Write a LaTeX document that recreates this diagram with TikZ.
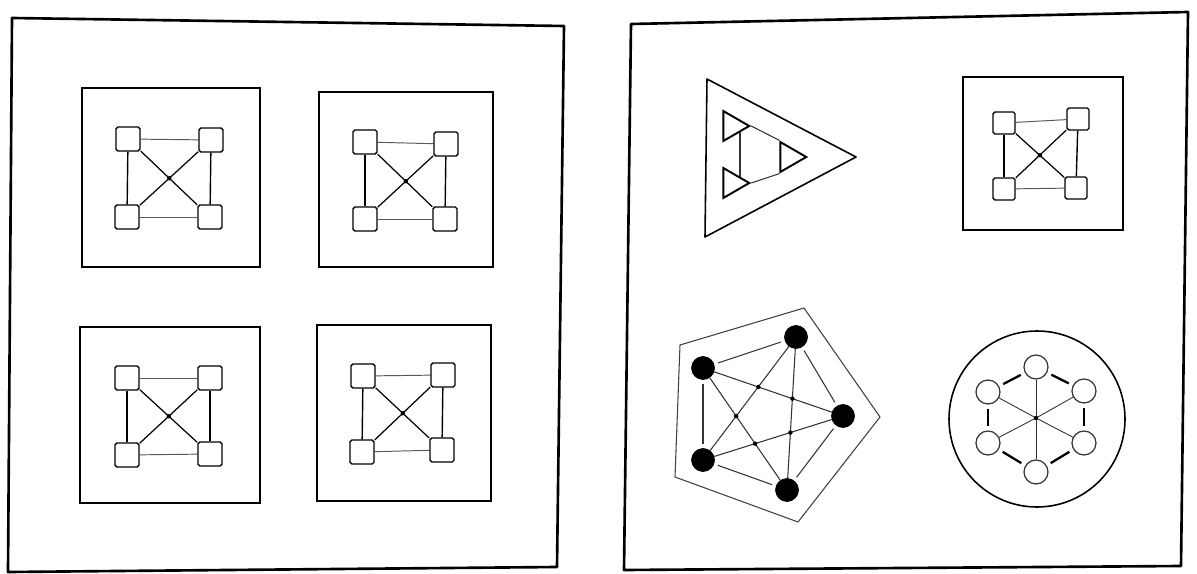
\documentclass[tikz,border=0pt]{standalone}
\usetikzlibrary{shapes.geometric,backgrounds}
\newcommand{\kfour}[6]{%
  \node[sq,#6] (#1a) at (#2) {};
  \node[sq,#6] (#1b) at (#3) {};
  \node[sq,#6] (#1c) at (#4) {};
  \node[sq,#6] (#1d) at (#5) {};
  \begin{pgfonlayer}{background}
    \draw[hedge] (#1a) -- (#1b);
    \draw[hedge] (#1c) -- (#1d);
    \draw[vedge] (#1a) -- (#1c);
    \draw[vedge] (#1b) -- (#1d);
    \draw[dedge] (#1a) -- (#1d);
    \draw[dedge] (#1b) -- (#1c);
  \end{pgfonlayer}
  \node[xdot] (#1x) at (intersection of #1a.center--#1d.center and #1b.center--#1c.center) {};
}
\begin{document}
\begin{tikzpicture}[x=0.02cm,y=-0.02cm,
  panel/.style={line width=1.5pt, line join=round},
  box/.style={line width=0.9pt},
  sq/.style={draw, line width=0.8pt, minimum size=0.48cm, inner sep=0pt, rounded corners=1pt, fill=white},
  hedge/.style={line width=0.55pt, black!65},
  vedge/.style={line width=0.8pt},
  dedge/.style={line width=0.7pt},
  xdot/.style={circle, fill=black, inner sep=0pt, minimum size=2.5pt},
  tri/.style={draw, regular polygon, regular polygon sides=3, shape border rotate=-90, minimum size=0.69cm, inner sep=0pt, line width=1.1pt, fill=white},
  tedge/.style={line width=0.6pt, black!80},
  bnode/.style={circle, fill=black, draw=black, minimum size=0.46cm, inner sep=0pt},
  wnode/.style={circle, fill=white, draw=black!80, line width=0.7pt, minimum size=0.48cm, inner sep=0pt},
  pedge/.style={line width=0.6pt, black!80},
  pring/.style={line width=0.6pt, black!80, shorten >=0.08cm, shorten <=0.08cm},
  spoke/.style={line width=0.5pt, black!80},
  ring/.style={line width=1.3pt, shorten >=0.09cm, shorten <=0.09cm},
]
\useasboundingbox (0,0) rectangle (1197,574);
\begin{pgfonlayer}{background}
  \fill[white] (0,0) rectangle (1197,574);
\end{pgfonlayer}

% panels
\draw[panel] (12,18) -- (564,26) -- (557,567) -- (8,572) -- cycle;
\draw[panel] (631,24) -- (1188,12) -- (1181,566) -- (624,570) -- cycle;

% left panel: four boxes
\draw[box] (82,88) rectangle (260,267);
\kfour{A}{128,139}{211,140}{127,217}{210,217}{}
\draw[box] (319,92) rectangle (493,267);
\kfour{B}{365,142}{446,144}{365,219}{445,219}{}
\draw[box] (80,327) rectangle (260,503);
\kfour{C}{127,378}{210,378}{127,455}{210,454}{}
\draw[box] (317,325) rectangle (491,501);
\kfour{D}{363,376}{443,375}{362,452}{442,450}{}

% right panel: square block
\draw[box] (963,77) rectangle (1123,230);
\kfour{E}{1004,123}{1078,119}{1004,189}{1076,188}{minimum size=0.44cm}

% right panel: triangle block
\draw[line width=0.9pt, line join=round] (707,79) -- (856,157) -- (705,237) -- cycle;
\node[tri] (t1) at (732,126) {};
\node[tri] (t2) at (789,157) {};
\node[tri] (t3) at (732,183) {};
\begin{pgfonlayer}{background}
  \draw[tedge] (t1.corner 1) -- (t2.corner 2);
  \draw[tedge] (t3.corner 1) -- (t2.corner 3);
  \draw[tedge] ([xshift=0.16cm]t1.center) -- ([xshift=0.16cm]t3.center);
\end{pgfonlayer}

% right panel: pentagon block
\draw[line width=0.6pt, black!75, line join=round] (680,345) -- (804,308) -- (880,417) -- (798,522) -- (675,477) -- cycle;
\node[bnode] (p1) at (703,368) {};
\node[bnode] (p2) at (796,337) {};
\node[bnode] (p3) at (843,416) {};
\node[bnode] (p4) at (787,490) {};
\node[bnode] (p5) at (703,460) {};
\begin{pgfonlayer}{background}
  \draw[pring] (p1) -- (p2);
  \draw[pring] (p2) -- (p3);
  \draw[pring] (p3) -- (p4);
  \draw[pring] (p4) -- (p5);
  \draw[pring] (p5) -- (p1);
  \draw[pedge] (p1) -- (p3);
  \draw[pedge] (p1) -- (p4);
  \draw[pedge] (p2) -- (p4);
  \draw[pedge] (p2) -- (p5);
  \draw[pedge] (p3) -- (p5);
\end{pgfonlayer}
\node[xdot] (q1) at (intersection of p1.center--p3.center and p2.center--p5.center) {};
\node[xdot] (q2) at (intersection of p1.center--p3.center and p2.center--p4.center) {};
\node[xdot] (q3) at (intersection of p1.center--p4.center and p2.center--p5.center) {};
\node[xdot] (q4) at (intersection of p1.center--p4.center and p3.center--p5.center) {};
\node[xdot] (q5) at (intersection of p2.center--p4.center and p3.center--p5.center) {};

% right panel: circle block
\draw[line width=0.9pt] (1037,419) circle [radius=88];
\node[xdot] (hub) at (1036,418) {};
\node[wnode] (h1) at (1036,367) {};
\node[wnode] (h2) at (1084,391) {};
\node[wnode] (h3) at (1084,443) {};
\node[wnode] (h4) at (1036,472) {};
\node[wnode] (h5) at (988,443) {};
\node[wnode] (h6) at (988,392) {};
\begin{pgfonlayer}{background}
  \foreach \i in {1,...,6} {\draw[spoke] (hub.center) -- (h\i);}
  \draw[ring] (h1) -- (h2);
  \draw[ring] (h2) -- (h3);
  \draw[ring] (h3) -- (h4);
  \draw[ring] (h4) -- (h5);
  \draw[ring] (h5) -- (h6);
  \draw[ring] (h6) -- (h1);
\end{pgfonlayer}
\end{tikzpicture}
\end{document}
